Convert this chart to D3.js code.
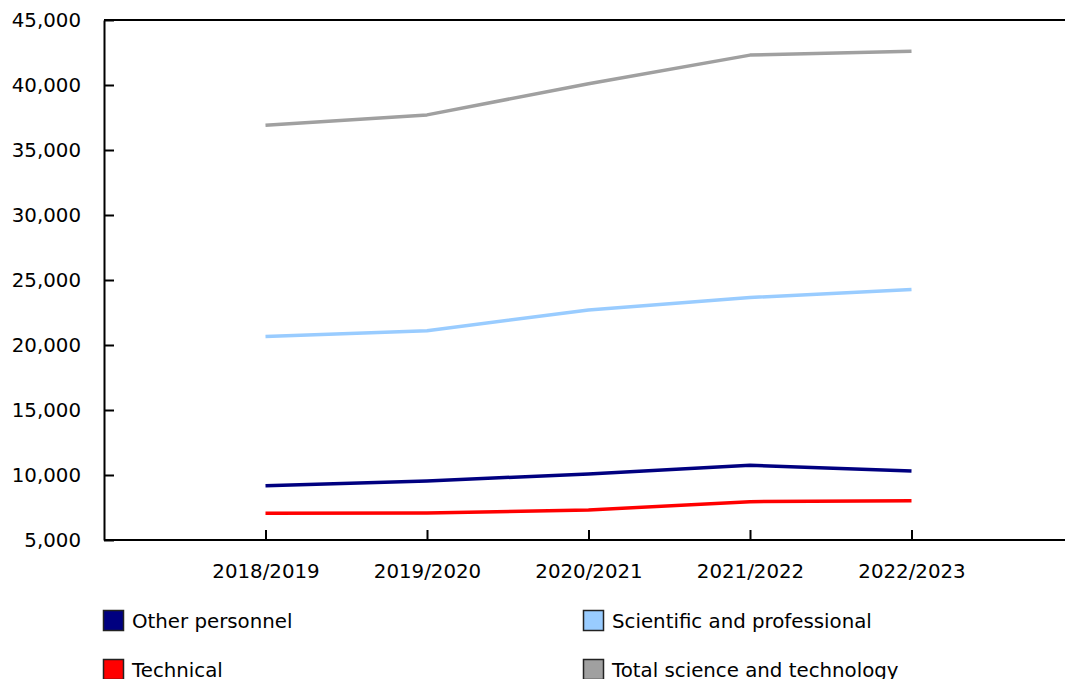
<!DOCTYPE html>
<html>
<head>
<meta charset="utf-8">
<script src="https://cdn.jsdelivr.net/npm/d3@7"></script>
<style>
  html, body { margin: 0; padding: 0; background: #fff; }
  svg { display: block; font-family: "DejaVu Sans", Verdana, sans-serif; }
</style>
</head>
<body>
<svg id="chart" width="1065" height="679"></svg>
<script>
// Fiscal years on the horizontal axis
const years = ["2018/2019", "2019/2020", "2020/2021", "2021/2022", "2022/2023"];

// Personnel counts per category
const otherPersonnel = [9180, 9540, 10080, 10750, 10310];
const scientificProfessional = [20650, 21100, 22700, 23650, 24270];
const technical = [7050, 7080, 7310, 7950, 8020];
const totalScienceTech = [36900, 37700, 40100, 42300, 42600];

// Vertical axis ticks
const yTicks = [5000, 10000, 15000, 20000, 25000, 30000, 35000, 40000, 45000];

const seriesNames = ["Other personnel", "Scientific and professional", "Technical", "Total science and technology"];
const seriesValues = [otherPersonnel, scientificProfessional, technical, totalScienceTech];
const seriesColors = ["#000080", "#99ccff", "#ff0000", "#a0a0a0"];

const series = seriesNames.map((name, i) => ({
  name, color: seriesColors[i],
  values: years.map((y, j) => ({ year: y, value: seriesValues[i][j] }))
}));

const fontSize = 19.8;
const svg = d3.select("#chart");
const plotLeft = 104, plotRight = 1073, plotTop = 20, plotBottom = 540;

const x = d3.scalePoint().domain(years).range([plotLeft, plotRight]).padding(1);
const y = d3.scaleLinear().domain([5000, 45000]).range([plotBottom, plotTop]);

// Top frame line
svg.append("line")
  .attr("x1", plotLeft).attr("x2", 1065)
  .attr("y1", plotTop).attr("y2", plotTop)
  .attr("stroke", "#000").attr("stroke-width", 2);

// Y axis with inward ticks
const yAxis = svg.append("g")
  .attr("transform", `translate(${plotLeft},0)`)
  .call(d3.axisLeft(y).tickValues(yTicks).tickSizeInner(-10).tickSizeOuter(0)
    .tickPadding(23).tickFormat(d3.format(",")));
yAxis.select(".domain").attr("stroke-width", 2);
yAxis.selectAll(".tick line").attr("stroke-width", 2);
yAxis.selectAll("text").attr("font-size", fontSize).attr("fill", "#000")
  .attr("font-family", '"DejaVu Sans", Verdana, sans-serif');

// X axis with inward ticks
const xAxis = svg.append("g")
  .attr("transform", `translate(0,${plotBottom})`)
  .call(d3.axisBottom(x).tickSizeInner(-10).tickSizeOuter(0).tickPadding(24));
xAxis.select(".domain").attr("stroke-width", 2).attr("d", `M${plotLeft},0H1065`);
xAxis.selectAll(".tick line").attr("stroke-width", 2);
xAxis.selectAll("text").attr("font-size", fontSize).attr("fill", "#000")
  .attr("font-family", '"DejaVu Sans", Verdana, sans-serif');

// Series lines
const line = d3.line().x(d => x(d.year)).y(d => y(d.value));
svg.append("g").selectAll("path")
  .data(series)
  .join("path")
  .attr("d", d => line(d.values))
  .attr("fill", "none")
  .attr("stroke", d => d.color)
  .attr("stroke-width", 3.5)
  .attr("stroke-linejoin", "round");

// Legend, two columns
const legendPos = [[103, 610], [583, 610], [103, 659], [583, 659]];
const legend = svg.append("g").selectAll("g")
  .data(series)
  .join("g")
  .attr("transform", (d, i) => `translate(${legendPos[i][0]},${legendPos[i][1]})`);
legend.append("rect")
  .attr("x", 0.5).attr("y", 0.5)
  .attr("width", 20).attr("height", 20)
  .attr("fill", d => d.color)
  .attr("stroke", "#222").attr("stroke-width", 1.5);
legend.append("text")
  .attr("x", 29).attr("y", 18)
  .attr("font-size", fontSize)
  .attr("fill", "#000")
  .text(d => d.name);
</script>
</body>
</html>
